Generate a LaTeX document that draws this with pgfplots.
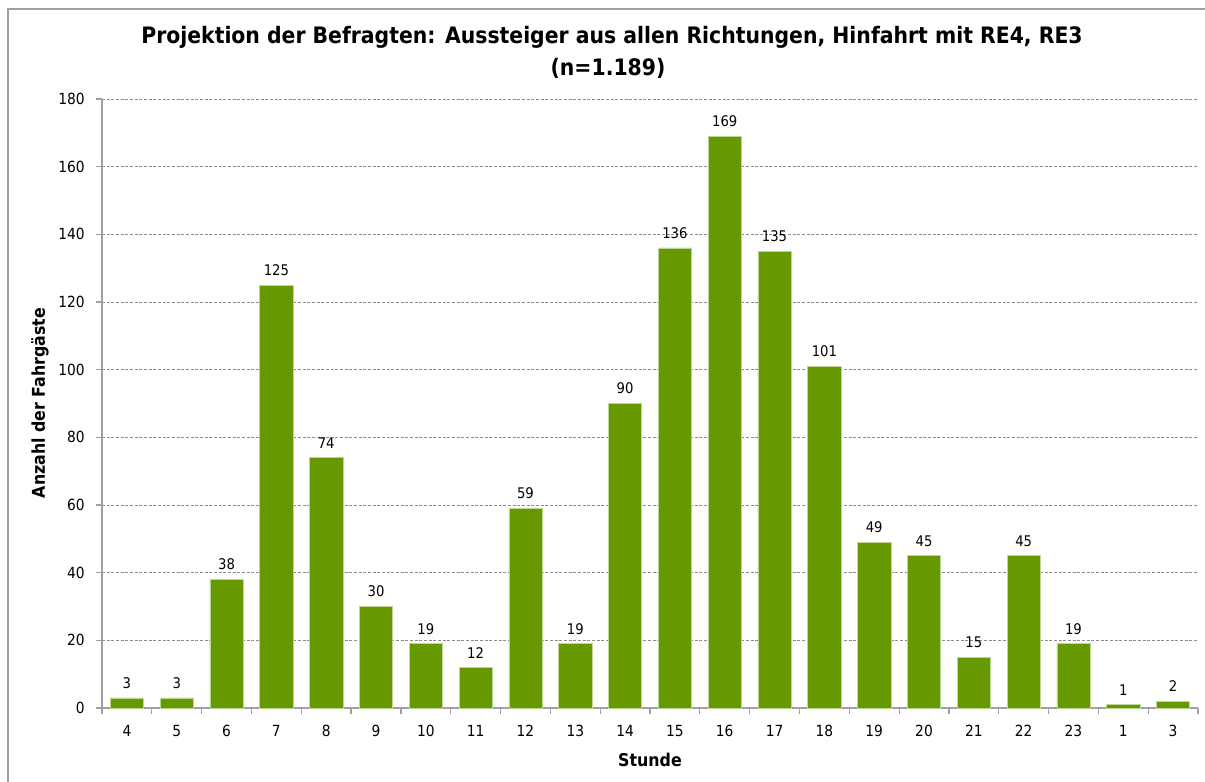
\documentclass[border=0pt]{standalone}
\usepackage{fontspec}
\setmainfont{DejaVu Sans Condensed}
\usepackage{pgfplots}
\pgfplotsset{compat=1.18}
\definecolor{bargreen}{RGB}{102,153,0}
\definecolor{baredge}{RGB}{190,215,150}
\definecolor{axgray}{RGB}{160,160,160}
\definecolor{gridgray}{RGB}{140,140,140}
\begin{document}
\begin{tikzpicture}
\useasboundingbox (0,0) rectangle (903.75pt,585.75pt);
\draw[color=axgray, line width=1.2pt] (6pt,-2pt) -- (6pt,579pt) -- (906pt,579pt);
\begin{axis}[
  at={(76.5pt,54.75pt)}, anchor=south west,
  scale only axis, width=822pt, height=456.75pt,
  xmin=-0.5, xmax=21.5, ymin=0, ymax=180,
  ytick={0,20,...,180},
  xtick={0,...,21},
  xticklabels={4,5,6,7,8,9,10,11,12,13,14,15,16,17,18,19,20,21,22,23,1,3},
  minor xtick={-0.5,0.5,...,21.5},
  major x tick style={draw=none},
  minor x tick style={draw=axgray, line width=0.9pt},
  major y tick style={draw=axgray, line width=0.9pt},
  tick align=outside, tick pos=left,
  major tick length=4.5pt, minor tick length=4.5pt,
  axis x line*=bottom, axis y line*=left,
  axis line style={draw=axgray, line width=1.1pt, -},
  ymajorgrids, grid style={draw=gridgray, dash pattern=on 2.2pt off 1.3pt, line width=0.6pt},
  /pgf/number format/assume math mode=true,
  ticklabel style={font=\fontsize{11.5}{14}\selectfont, text=black},
  yticklabel style={xshift=-5pt},
  xticklabel style={yshift=-5pt},
  ybar, bar width=0.667, bar shift=0pt,
  nodes near coords,
  every node near coord/.append style={font=\fontsize{11}{13}\selectfont, text=black, yshift=3.5pt},
  clip=false,
]
\addplot[fill=bargreen, draw=baredge, line width=0.4pt] coordinates {
(0,3) (1,3) (2,38) (3,125) (4,74) (5,30) (6,19) (7,12) (8,59) (9,19) (10,90)
(11,136) (12,169) (13,135) (14,101) (15,49) (16,45) (17,15) (18,45) (19,19) (20,1) (21,2)};
\end{axis}
\node[font=\bfseries\fontsize{17}{20}\selectfont] at (459pt,558pt) {Projektion der Befragten: Aussteiger aus allen Richtungen, Hinfahrt mit RE4, RE3};
\node[font=\bfseries\fontsize{17}{20}\selectfont] at (456pt,534.75pt) {(n=1.189)};
\node[font=\bfseries\fontsize{13.2}{15}\selectfont] at (487.5pt,16pt) {Stunde};
\node[font=\bfseries\fontsize{13.2}{15}\selectfont, rotate=90] at (30pt,283.5pt) {Anzahl der Fahrgäste};
\end{tikzpicture}
\end{document}
